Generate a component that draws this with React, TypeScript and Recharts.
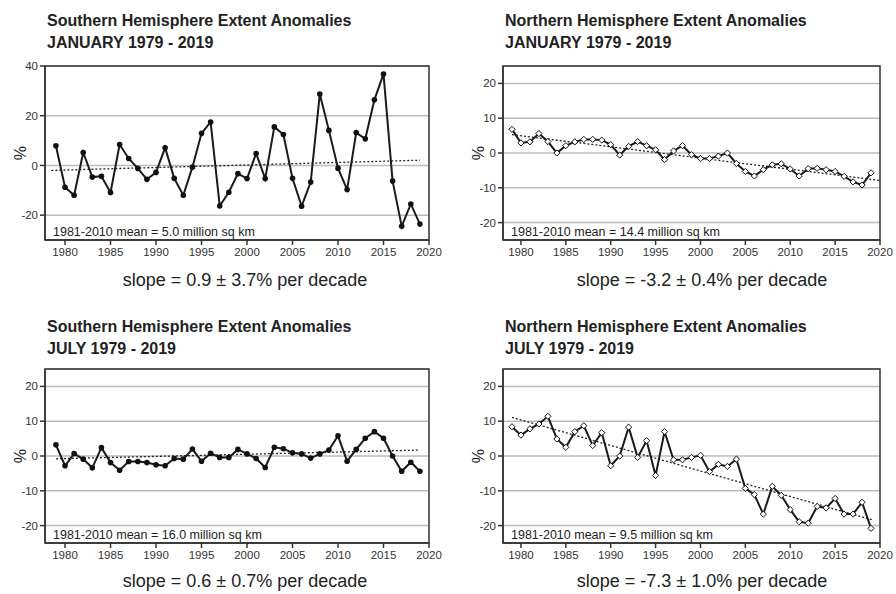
import React from 'react';
import { LineChart, Line, XAxis, YAxis, CartesianGrid, ReferenceLine, ReferenceArea } from 'recharts';

const years = [1979, 1980, 1981, 1982, 1983, 1984, 1985, 1986, 1987, 1988, 1989, 1990, 1991, 1992, 1993, 1994, 1995, 1996, 1997, 1998, 1999, 2000, 2001, 2002, 2003, 2004, 2005, 2006, 2007, 2008, 2009, 2010, 2011, 2012, 2013, 2014, 2015, 2016, 2017, 2018, 2019];

const shJan = [7.9, -8.8, -12.0, 5.2, -4.7, -4.4, -10.9, 8.4, 2.8, -1.2, -5.6, -2.8, 7.1, -5.2, -12.0, -0.7, 12.9, 17.5, -16.3, -10.8, -3.3, -5.3, 4.8, -5.3, 15.5, 12.4, -5.2, -16.4, -6.7, 28.7, 14.1, -1.1, -9.7, 13.2, 10.7, 26.4, 36.8, -6.3, -24.5, -15.5, -23.6];
const nhJan = [6.8, 2.9, 3.2, 5.6, 3.3, 0.0, 2.1, 3.2, 3.9, 3.9, 3.7, 2.4, -0.6, 1.9, 3.3, 2.1, 0.9, -1.9, 0.6, 2.1, -0.5, -1.6, -1.6, -0.9, 0.0, -3.0, -5.3, -6.6, -4.8, -3.4, -3.1, -4.6, -6.6, -4.5, -4.4, -4.8, -5.3, -6.7, -8.3, -9.2, -5.7];
const shJul = [3.2, -2.8, 0.7, -0.9, -3.4, 2.4, -1.9, -4.1, -1.6, -1.6, -1.9, -2.5, -2.8, -0.7, -0.9, 2.0, -1.5, 0.8, -0.4, -0.4, 1.9, 0.6, -0.7, -3.3, 2.5, 2.1, 0.9, 0.6, -0.6, 0.6, 1.7, 5.8, -1.5, 1.9, 5.1, 7.0, 5.1, 0.0, -4.4, -1.8, -4.4];
const nhJul = [8.4, 6.0, 7.8, 9.2, 11.4, 4.9, 2.5, 7.0, 8.7, 3.0, 6.7, -2.8, 0.0, 8.3, -0.4, 4.4, -5.6, 7.0, -1.1, -1.1, -0.4, 0.2, -4.5, -2.4, -3.0, -0.9, -9.3, -11.1, -16.7, -8.7, -11.3, -15.4, -18.9, -19.3, -14.5, -14.9, -12.2, -16.7, -16.7, -13.3, -20.8];

const trendShJan = [{ x: 1978.5, y: -2.0 }, { x: 2019, y: 2.1 }];
const trendNhJan = [{ x: 1979, y: 5.3 }, { x: 2020, y: -7.9 }];
const trendShJul = [{ x: 1979, y: -0.8 }, { x: 2019, y: 1.7 }];
const trendNhJul = [{ x: 1979, y: 11.1 }, { x: 2019.2, y: -18.4 }];

const xTicks = [1980, 1985, 1990, 1995, 2000, 2005, 2010, 2015, 2020];
const yTicksShJan = [-20, 0, 20, 40];
const yTicksOther = [-20, -10, 0, 10, 20];

const FONT = '"Liberation Sans", Arial, Helvetica, sans-serif';
const TEXT = '#222';

const Diamond = (props: any) => {
  const { cx, cy, index } = props;
  if (cx == null || cy == null) return <g key={index} />;
  const s = 3.1;
  return (
    <polygon
      key={index}
      points={`${cx},${cy - s} ${cx + s},${cy} ${cx},${cy + s} ${cx - s},${cy}`}
      fill="#fff"
      stroke="#111"
      strokeWidth={1}
    />
  );
};

function Panel(props: any) {
  const { px, py, pw, ph, rightMargin, xMin, yDomain, yTicks, values, trend, title1, title2, titleTop, mean, slope, slopeTop, slopeCenter, diamond } = props;
  const data = years.map((y, i) => ({ year: y, v: values[i] }));
  const W = pw + 45 + rightMargin;
  const H = ph + 40;
  return (
    <>
      <div style={{ position: 'absolute', left: px - 45, top: py - 10, width: W, height: H }}>
        <LineChart width={W} height={H} data={data} margin={{ top: 10, right: rightMargin, bottom: 0, left: 15 }}>
          <CartesianGrid vertical={false} stroke="#bcbcbc" strokeWidth={1.5} />
          <XAxis
            dataKey="year"
            type="number"
            domain={[xMin, 2020]}
            ticks={xTicks}
            interval={0}
            allowDataOverflow
            height={30}
            tickSize={5}
            tickMargin={3}
            tick={{ fontSize: 11.5, fill: '#333', fontFamily: FONT }}
            stroke="#333"
            strokeWidth={1.5}
          />
          <YAxis
            type="number"
            domain={yDomain}
            ticks={yTicks}
            interval={0}
            allowDataOverflow
            width={30}
            tickSize={5}
            tickMargin={2}
            tick={{ fontSize: 11.5, fill: '#333', fontFamily: FONT }}
            stroke="#333"
            strokeWidth={1.5}
          />
          <ReferenceLine segment={trend} stroke="#222" strokeDasharray="2 2" strokeWidth={1.3} ifOverflow="visible" />
          <Line
            dataKey="v"
            stroke="#1a1a1a"
            strokeWidth={2}
            isAnimationActive={false}
            dot={diamond ? Diamond : { r: 2.8, fill: '#111', stroke: '#111', strokeWidth: 0 }}
            activeDot={false}
          />
          <ReferenceArea x1={xMin} x2={2020} y1={yDomain[0]} y2={yDomain[1]} fill="none" stroke="#333" strokeWidth={1.5} ifOverflow="visible" />
        </LineChart>
      </div>
      <div style={{ position: 'absolute', left: px + 2, top: titleTop, fontSize: 16, lineHeight: '22px', fontWeight: 'bold', color: TEXT, whiteSpace: 'nowrap' }}>
        <div>{title1}</div>
        <div>{title2}</div>
      </div>
      <div style={{ position: 'absolute', left: px - 34, top: py + ph / 2 - 10, width: 20, height: 20, lineHeight: '20px', fontSize: 16, color: TEXT, textAlign: 'center', transform: 'rotate(-90deg)' }}>%</div>
      <div style={{ position: 'absolute', left: px + 8, top: py + ph - 15, fontSize: 12.5, lineHeight: '14px', color: TEXT, whiteSpace: 'nowrap' }}>{mean}</div>
      <div style={{ position: 'absolute', left: slopeCenter - 200, width: 400, top: slopeTop, fontSize: 18, lineHeight: '22px', color: TEXT, textAlign: 'center', whiteSpace: 'nowrap' }}>{slope}</div>
    </>
  );
}

export default function App() {
  return (
    <div style={{ position: 'absolute', left: 0, top: 0, width: 896, height: 594, background: '#fff', fontFamily: FONT, overflow: 'hidden' }}>
      <Panel px={45} py={66} pw={384} ph={174} rightMargin={20} xMin={1977.8} yDomain={[-30, 40]} yTicks={yTicksShJan} values={shJan} trend={trendShJan}
        title1="Southern Hemisphere Extent Anomalies" title2="JANUARY 1979 - 2019" titleTop={10}
        mean="1981-2010 mean = 5.0 million sq km" slope="slope = 0.9 ± 3.7% per decade" slopeTop={269} slopeCenter={245} diamond={false} />
      <Panel px={503} py={66} pw={377} ph={174} rightMargin={16} xMin={1978} yDomain={[-25, 25]} yTicks={yTicksOther} values={nhJan} trend={trendNhJan}
        title1="Northern Hemisphere Extent Anomalies" title2="JANUARY 1979 - 2019" titleTop={10}
        mean="1981-2010 mean = 14.4 million sq km" slope="slope = -3.2 ± 0.4% per decade" slopeTop={269} slopeCenter={702} diamond={true} />
      <Panel px={45} py={369} pw={384} ph={174} rightMargin={20} xMin={1977.8} yDomain={[-25, 25]} yTicks={yTicksOther} values={shJul} trend={trendShJul}
        title1="Southern Hemisphere Extent Anomalies" title2="JULY 1979 - 2019" titleTop={316}
        mean="1981-2010 mean = 16.0 million sq km" slope="slope = 0.6 ± 0.7% per decade" slopeTop={570} slopeCenter={245} diamond={false} />
      <Panel px={503} py={369} pw={377} ph={174} rightMargin={16} xMin={1978} yDomain={[-25, 25]} yTicks={yTicksOther} values={nhJul} trend={trendNhJul}
        title1="Northern Hemisphere Extent Anomalies" title2="JULY 1979 - 2019" titleTop={316}
        mean="1981-2010 mean = 9.5 million sq km" slope="slope = -7.3 ± 1.0% per decade" slopeTop={570} slopeCenter={702} diamond={true} />
    </div>
  );
}
